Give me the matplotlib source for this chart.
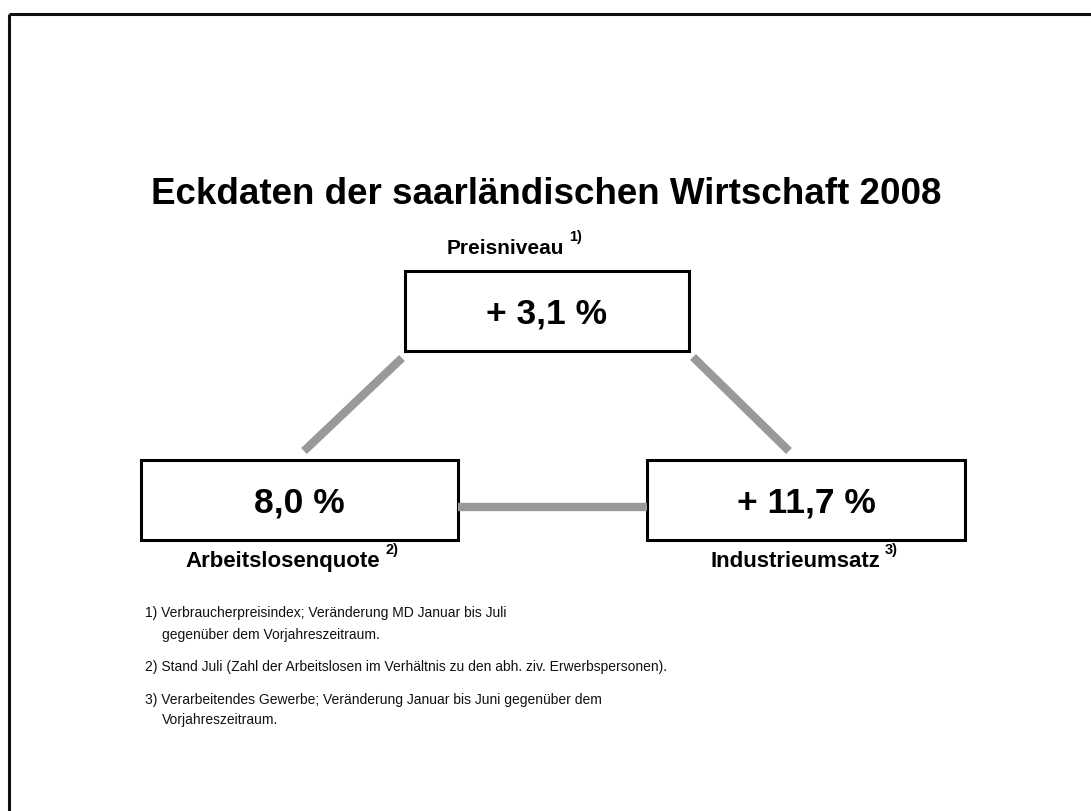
import matplotlib
matplotlib.use("Agg")
import matplotlib.pyplot as plt
from matplotlib.patches import Rectangle

plt.rcParams['font.family'] = ['Liberation Sans', 'DejaVu Sans']

title = "Eckdaten der saarländischen Wirtschaft 2008"
indicators = ["Preisniveau", "Arbeitslosenquote", "Industrieumsatz"]
values = ["+ 3,1 %", "8,0 %", "+ 11,7 %"]
note_marks = ["1)", "2)", "3)"]
footnotes = [
    ["1) Verbraucherpreisindex; Veränderung MD Januar bis Juli", "gegenüber dem Vorjahreszeitraum."],
    ["2) Stand Juli (Zahl der Arbeitslosen im Verhältnis zu den abh. ziv. Erwerbspersonen)."],
    ["3) Verarbeitendes Gewerbe; Veränderung Januar bis Juni gegenüber dem", "Vorjahreszeitraum."],
]

W, H = 1091, 812
fig = plt.figure(figsize=(W / 100, H / 100), dpi=100)
ax = fig.add_axes([0, 0, 1, 1])
ax.set_xlim(0, W)
ax.set_ylim(H, 0)
ax.axis('off')

# outer frame (top and left edges visible)
ax.plot([9, W + 5], [15, 15], color='#111111', lw=2.2, solid_capstyle='butt')
ax.plot([9, 9], [15, H + 5], color='#111111', lw=2.2, solid_capstyle='butt')

ax.text(546, 195, title, ha='center', va='center', fontsize=26.5, fontweight='bold')

# boxes: (x0, y0, x1, y1)
boxes = [(405, 272, 689, 352), (141, 461, 458, 541), (647, 461, 965, 541)]

# connectors
gray = '#999999'
ax.plot([304, 402], [452, 359], color=gray, lw=6, solid_capstyle='butt')
ax.plot([693, 789], [358, 452], color=gray, lw=6, solid_capstyle='butt')
ax.plot([458, 647], [508, 508], color=gray, lw=6, solid_capstyle='butt')

for (x0, y0, x1, y1), v in zip(boxes, values):
    ax.add_patch(Rectangle((x0, y0), x1 - x0, y1 - y0, fill=False, ec='black', lw=2.2))
    ax.text((x0 + x1) / 2, (y0 + y1) / 2 + 2, v, ha='center', va='center',
            fontsize=25.5, fontweight='bold')

label_pos = [(505, 249), (283, 562), (795, 562)]
label_size = [15, 16, 16]
for (lx, ly), name, mk, fs in zip(label_pos, indicators, note_marks, label_size):
    t = ax.text(lx, ly, name, ha='center', va='center', fontsize=fs, fontweight='bold')
    fig.canvas.draw()
    bb = t.get_window_extent()
    xr = bb.x1 + 5
    ax.text(xr, ly - 12, mk, ha='left', va='center', fontsize=10.5, fontweight='bold')

# footnotes
ys = [[613, 635], [667], [700, 720]]
for lines, yl in zip(footnotes, ys):
    for i, (line, y) in enumerate(zip(lines, yl)):
        ax.text(145 if i == 0 else 162, y, line, ha='left', va='center', fontsize=10,
                color='#111111')

fig.savefig('out.png', dpi=100)
